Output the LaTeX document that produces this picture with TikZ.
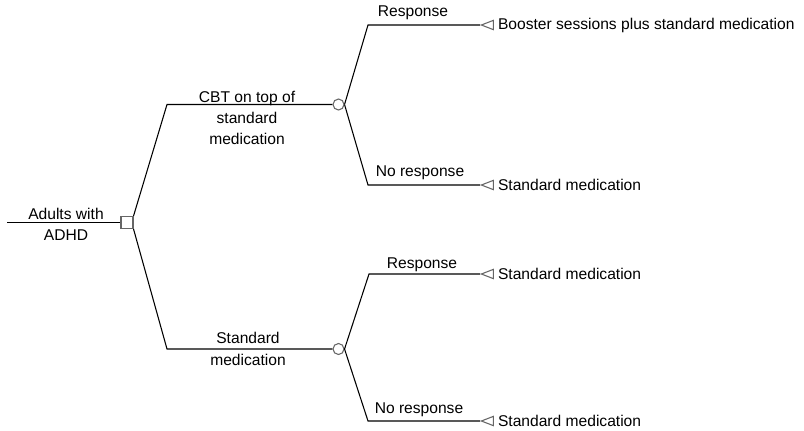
\documentclass[tikz,border=0pt]{standalone}
\usepackage{fontspec}
\setmainfont{Liberation Sans}
\usetikzlibrary{positioning,shapes.geometric}
\tikzset{font=\fontsize{11.7}{15.9}\selectfont}
\tikzstyle{decision}=[rectangle,draw=black!60,fill=white,minimum size=9pt,inner sep=0pt]
\tikzstyle{chance}=[circle,draw=black!60,fill=white,minimum size=8.25pt,inner sep=0pt]
\tikzstyle{payoff}=[isosceles triangle,isosceles triangle stretches,shape border rotate=180,draw=black!60,minimum width=7pt,minimum height=9pt,inner sep=0pt,anchor=apex]
\tikzstyle{lbl}=[align=center,inner sep=0pt]
\tikzstyle{outcome}=[anchor=west,inner sep=0pt]
\begin{document}
\begin{tikzpicture}[x=0.75pt,y=-0.75pt,line width=0.8pt]
\useasboundingbox (0,0) rectangle (804,430);
% tree nodes
\coordinate (in) at (7,222.5);
\node[decision] (dec) at (127,222.5) {};
\coordinate (k1) at (167,104.5);
\coordinate (k2) at (167,349);
\node[chance] (c1) at (338.5,104.5) {};
\node[chance] (c2) at (338.5,349) {};
\coordinate (r1) at (368,25);
\coordinate (r2) at (368,185);
\coordinate (r3) at (369,274);
\coordinate (r4) at (368,421);
\node[payoff] (t1) at (480,25) {};
\node[payoff] (t2) at (480,185) {};
\node[payoff] (t3) at (480,274) {};
\node[payoff] (t4) at (480,421) {};
% branches
\draw (in) -- (dec.west);
\draw (dec.north east) -- (k1) -- (c1.west);
\draw (dec.south east) -- (k2) -- (c2.west);
\draw (c1.east) -- (r1) -- (t1.apex);
\draw (c1.east) -- (r2) -- (t2.apex);
\draw (c2.east) -- (r3) -- (t3.apex);
\draw (c2.east) -- (r4) -- (t4.apex);
% labels
\node[lbl] (adhd) at (66,224) {Adults with\\ADHD};
\node[lbl] (cbt) at (247,118) {CBT on top of\\standard\\medication};
\node[lbl] (std) at (248,349) {Standard\\medication};
\node[lbl] (p1) at (413,13) {Response};
\node[lbl] (p2) at (420,173) {No response};
\node[lbl] (p3) at (422,265) {Response};
\node[lbl] (p4) at (419,410) {No response};
\node[outcome] (o1) at (497.5,25) {Booster sessions plus standard medication};
\node[outcome] (o2) at (497.5,185) {Standard medication};
\node[outcome] (o3) at (497.5,274) {Standard medication};
\node[outcome] (o4) at (497.5,421) {Standard medication};
\end{tikzpicture}
\end{document}
